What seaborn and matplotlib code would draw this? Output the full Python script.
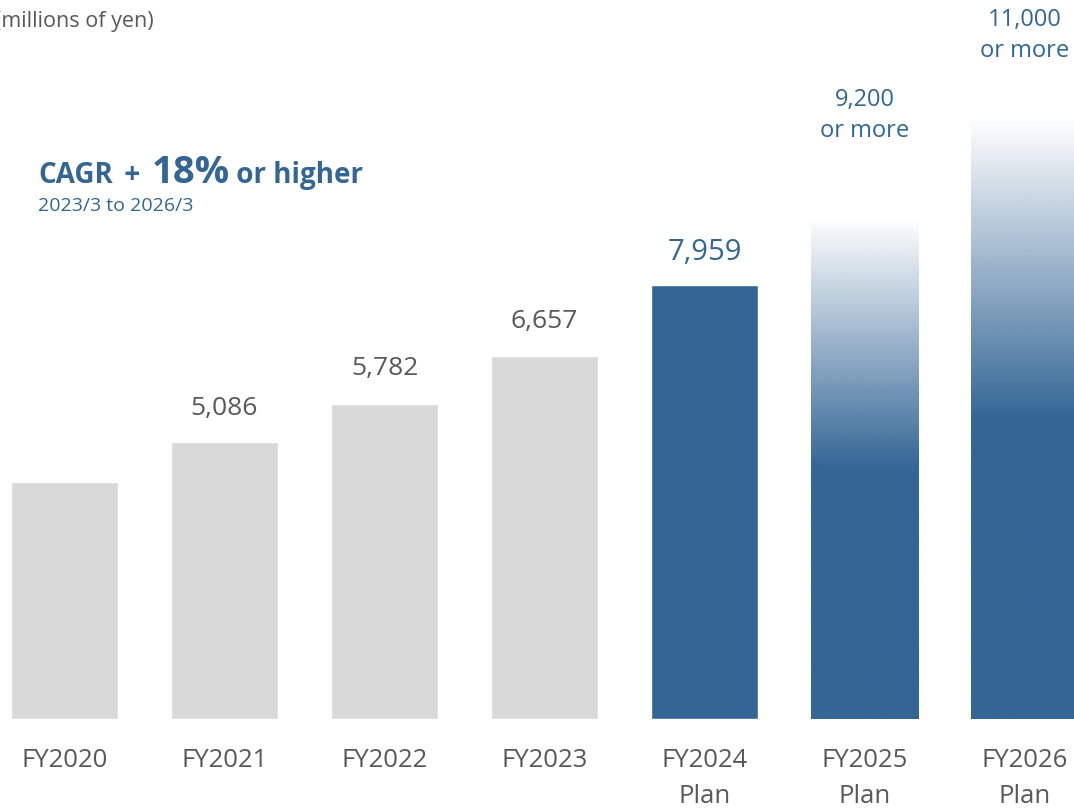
import numpy as np
import pandas as pd
import matplotlib
matplotlib.use('Agg')
import matplotlib.pyplot as plt
import seaborn as sns
from matplotlib.colors import to_rgb

# ===================== data =====================
years = ['FY2020', 'FY2021', 'FY2022', 'FY2023', 'FY2024', 'FY2025', 'FY2026']
sub_labels = ['', '', '', '', 'Plan', 'Plan', 'Plan']
sales = [4340, 5086, 5782, 6657, 7959, 9200, 11000]
value_labels = ['', '5,086', '5,782', '6,657', '7,959', '9,200\nor more', '11,000\nor more']
is_plan = [False, False, False, False, True, True, True]
is_gradient = [False, False, False, False, False, True, True]

BLUE = '#336695'
GRAY = '#d9d9d9'
TEXT_GRAY = '#595959'

sns.set_theme(style='white')
plt.rcParams['font.family'] = ['Open Sans', 'DejaVu Sans']

df = pd.DataFrame({'year': years, 'sales': sales})
colors = [BLUE if p else GRAY for p in is_plan]

fig = plt.figure(figsize=(10.74, 8.08), dpi=100)
ax = fig.add_axes([0, 0, 1, 1])
sns.barplot(data=df, x='year', y='sales', hue='year', palette=colors,
            width=0.67, legend=False, saturation=1, ax=ax)
ax.axis('off')

# gradient fill on the later plan bars (fade to white at the top)
for patch, grad in zip(ax.patches, is_gradient):
    if not grad:
        continue
    x0, y0 = patch.get_x(), patch.get_y()
    w, h = patch.get_width(), patch.get_height()
    frac = np.linspace(0, 1, 400)  # 0 = bottom, 1 = top
    alpha = np.clip((1 - frac) / 0.5, 0, 1)
    img = np.zeros((400, 1, 4))
    img[..., :3] = to_rgb(BLUE)
    img[:, 0, 3] = alpha
    im = ax.imshow(img, origin='lower', aspect='auto',
                   extent=(x0, x0 + w, y0, y0 + h), interpolation='bilinear', zorder=3)
    im.set_clip_path(patch)
    patch.set_facecolor('none')
ax.set_xlim(-0.403, 6.309)
ax.set_ylim(-1630, 13180)

# value labels
label_offsets = [24, 24, 25, 25, 23, 73, 60]  # points above bar top (to label centre)
for i, (v, lab) in enumerate(zip(sales, value_labels)):
    if not lab:
        continue
    if is_gradient[i]:
        size, col = 17, BLUE
    elif is_plan[i]:
        size, col = 21, BLUE
    else:
        size, col = 19, TEXT_GRAY
    ax.annotate(lab, (i, v), xytext=(0, label_offsets[i]), textcoords='offset points',
                ha='center', va='center', fontsize=size, color=col, linespacing=1.4)

# category labels
for i, (y, s) in enumerate(zip(years, sub_labels)):
    ax.annotate(y, (i, 0), xytext=(0, -30), textcoords='offset points',
                ha='center', va='center', fontsize=18.5, color=TEXT_GRAY)
    if s:
        ax.annotate(s, (i, 0), xytext=(0, -56), textcoords='offset points',
                    ha='center', va='center', fontsize=18.5, color=TEXT_GRAY)

# unit note (left edge clipped as in the original slide)
fig.text(-0.005, 0.974, '(millions of yen)', fontsize=15.5, color=TEXT_GRAY,
         ha='left', va='center')

# CAGR headline built from pieces
renderer = fig.canvas.get_renderer()
x_px, base_px = 38, 808 - 183
pieces = [('CAGR', 20, 0), (' + ', 20, 4), ('18%', 27.5, 0), (' or higher', 20, 0)]
for txt, size, pad in pieces:
    t = fig.text((x_px + pad) / 1074, base_px / 808, txt, fontsize=size, fontweight='bold',
                 color=BLUE, ha='left', va='baseline')
    bb = t.get_window_extent(renderer=renderer)
    x_px = bb.x1 + pad
fig.text(38 / 1074, (808 - 206) / 808, '2023/3 to 2026/3', fontsize=14,
         color=BLUE, ha='left', va='center')

fig.savefig('out.png', dpi=100)
